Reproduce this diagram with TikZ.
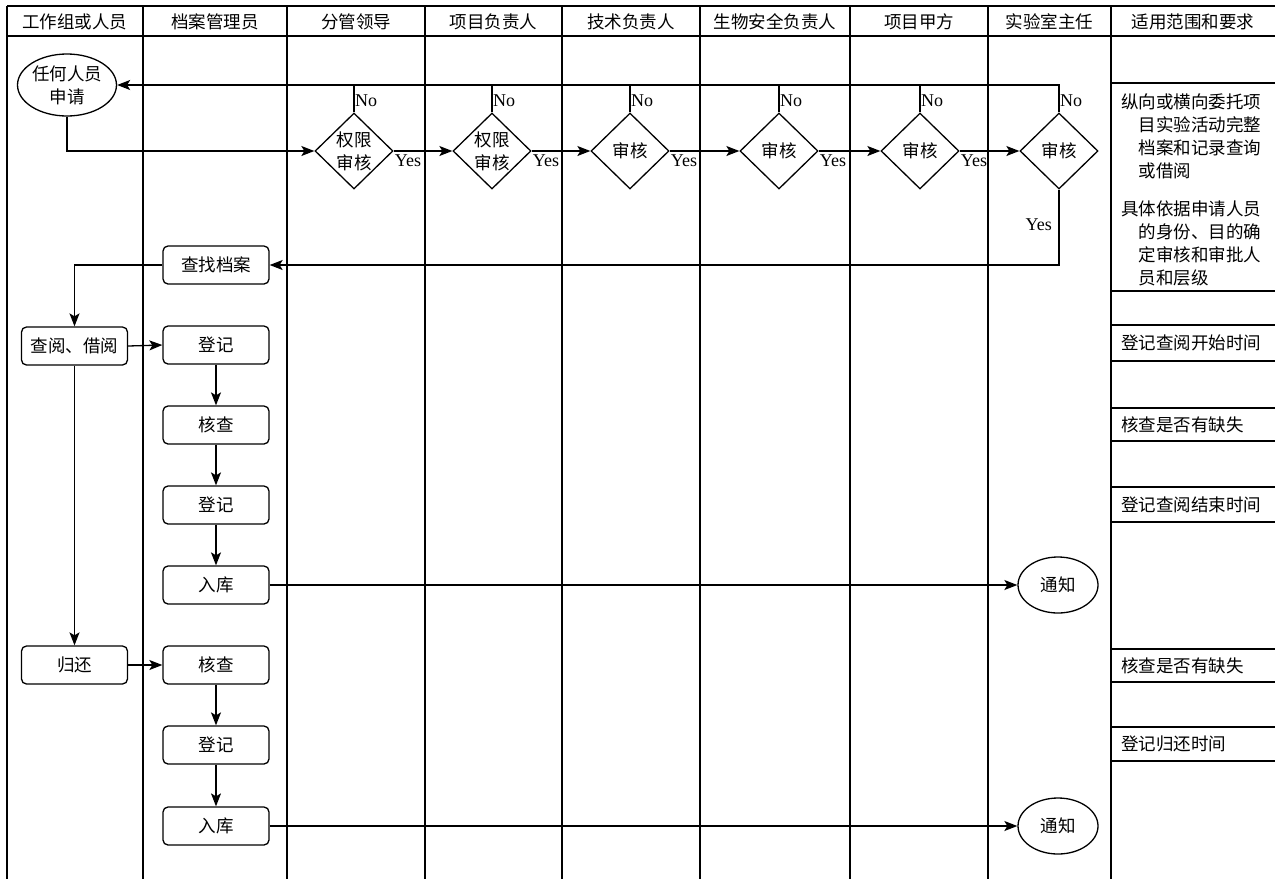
\documentclass[tikz,border=0pt]{standalone}
\usepackage{fontspec}
\setmainfont{Liberation Serif}
\newfontfamily\cjk{Noto Sans CJK SC}
\usetikzlibrary{shapes.geometric,arrows.meta}
\tikzset{
 ln/.style={line width=1.3pt},
 arr/.style={ln,-{Stealth[length=13pt,width=10pt,inset=3pt]}},
 cj/.style={font=\cjk\fontsize{17.5}{23}\selectfont},
 lat/.style={font=\fontsize{18}{20}\selectfont, inner sep=1pt},
 box/.style={cj,draw,ln,rounded corners=5pt,minimum width=106pt,minimum height=38pt,inner sep=0pt},
 dia/.style={cj,draw,ln,diamond,minimum width=78pt,minimum height=76pt,inner sep=-1pt,align=center},
 ell/.style={cj,draw,ln,ellipse,minimum width=80pt,minimum height=56pt,inner sep=0pt,align=center},
 hdr/.style={cj},
 note/.style={cj,anchor=west,inner sep=0pt,align=left},
}
\begin{document}
\begin{tikzpicture}[x=1pt,y=-1pt]
\useasboundingbox (0,0) rectangle (1275,879);
% frame
\draw[ln] (7,6) -- (1275,6);
\draw[ln] (7,36) -- (1275,36);
\foreach \x in {7,143,287,425,562,700,850,988,1111}
  \draw[ln] (\x,6) -- (\x,879);
\foreach \y in {83,291,325,361,408,441,487,522,649,682,727,761}
  \draw[ln] (1111,\y) -- (1275,\y);
% headers
\node[hdr] (h1) at (75,21.5) {工作组或人员};
\node[hdr] (h2) at (215,21.5) {档案管理员};
\node[hdr] (h3) at (356,21.5) {分管领导};
\node[hdr] (h4) at (493.5,21.5) {项目负责人};
\node[hdr] (h5) at (631,21.5) {技术负责人};
\node[hdr] (h6) at (775,21.5) {生物安全负责人};
\node[hdr] (h7) at (919,21.5) {项目甲方};
\node[hdr] (h8) at (1049.5,21.5) {实验室主任};
\node[hdr] (h9) at (1193,21.5) {适用范围和要求};
% nodes
\node[ell,minimum width=96pt,minimum height=62pt] (app) at (67,85) {任何人员\\申请};
\node[dia] (d1) at (354,151) {权限\\审核};
\node[dia] (d2) at (492,151) {权限\\审核};
\node[dia] (d3) at (630,151) {审核};
\node[dia] (d4) at (779,151) {审核};
\node[dia] (d5) at (920,151) {审核};
\node[dia] (d6) at (1059,151) {审核};
\node[box] (find) at (216,265) {查找档案};
\node[box] (q) at (74.5,346) {查阅、借阅};
\node[box] (reg1) at (216,345) {登记};
\node[box] (chk1) at (216,425) {核查};
\node[box] (reg2) at (216,505) {登记};
\node[box] (in1) at (216,585) {入库};
\node[box] (ret) at (74.5,665) {归还};
\node[box] (chk2) at (216,665) {核查};
\node[box] (reg3) at (216,745) {登记};
\node[box] (in2) at (216,826) {入库};
\node[ell] (n1) at (1058,585) {通知};
\node[ell] (n2) at (1058,826) {通知};
% labels
\foreach \d in {d1,d2,d3,d4,d5,d6}{
  \node[lat,anchor=south west] (no-\d) at ([yshift=4pt]\d.north) {No};
}
\foreach \d in {d1,d2,d3,d4,d5}{
  \node[lat,anchor=north west] (yes-\d) at ([yshift=-3pt]\d.east) {Yes};
}
\node[lat,anchor=east] (yes-d6) at (1053,225) {Yes};
% notes
\node[note] (t1) at (1121,136.5) {纵向或横向委托项\\\hspace*{1em}目实验活动完整\\\hspace*{1em}档案和记录查询\\\hspace*{1em}或借阅};
\node[note] (t2) at (1121,243) {具体依据申请人员\\\hspace*{1em}的身份、目的确\\\hspace*{1em}定审核和审批人\\\hspace*{1em}员和层级};
\node[note] (t3) at (1121,343) {登记查阅开始时间};
\node[note] (t4) at (1121,424.5) {核查是否有缺失};
\node[note] (t5) at (1121,504.5) {登记查阅结束时间};
\node[note] (t6) at (1121,665.5) {核查是否有缺失};
\node[note] (t7) at (1121,744) {登记归还时间};
% connectors
\draw[arr] (app.south) |- (d1.west);
\draw[arr] (d1.east) -- (d2.west);
\draw[arr] (d2.east) -- (d3.west);
\draw[arr] (d3.east) -- (d4.west);
\draw[arr] (d4.east) -- (d5.west);
\draw[arr] (d5.east) -- (d6.west);
\draw[arr] (d6.north) |- (app.east);
\foreach \d in {d1,d2,d3,d4,d5}
  \draw[ln] (\d.north) -- (\d.north |- app.east);
\draw[arr] (d6.south) |- (find.east);
\draw[arr] (find.west) -| (q.north);
\draw[arr] (q.east) -- (reg1.west);
\draw[arr] (reg1) -- (chk1);
\draw[arr] (chk1) -- (reg2);
\draw[arr] (reg2) -- (in1);
\draw[arr] (in1.east) -- (n1.west);
\draw[arr] (q.south) -- (ret.north);
\draw[arr] (ret.east) -- (chk2.west);
\draw[arr] (chk2) -- (reg3);
\draw[arr] (reg3) -- (in2);
\draw[arr] (in2.east) -- (n2.west);
\end{tikzpicture}
\end{document}
